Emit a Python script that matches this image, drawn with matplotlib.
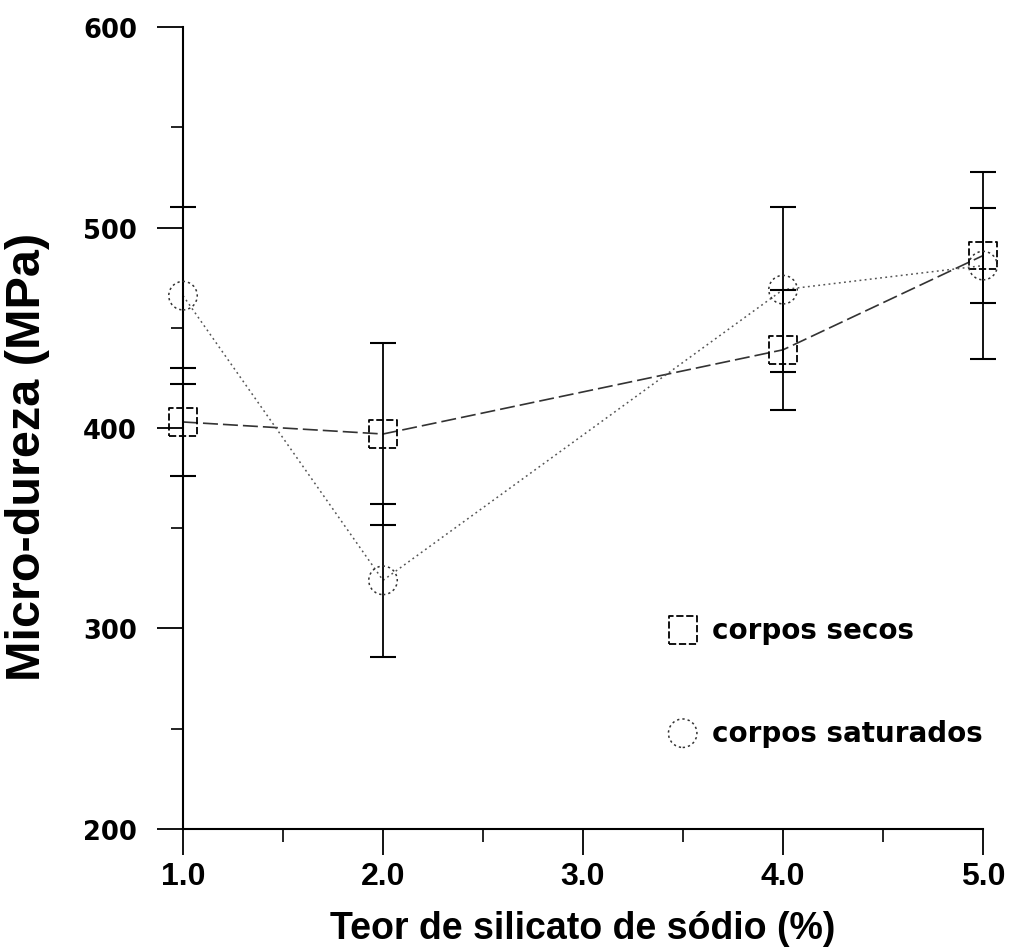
import matplotlib
matplotlib.use("Agg")
import matplotlib.pyplot as plt
from matplotlib import font_manager as fm
import numpy as np

# ---- data ----
teor = [1.0, 2.0, 4.0, 5.0]
secos = [403, 397, 439, 486]
secos_err = [27, 45.5, 30, 23.5]
saturados = [466, 324, 469, 481]
saturados_err = [44, 38, 41, 46.5]
xtick_labels = ["1.0", "2.0", "3.0", "4.0", "5.0"]
ytick_vals = [200, 300, 400, 500, 600]
label_secos = "corpos secos"
label_sat = "corpos saturados"
xlabel = "Teor de silicato de sódio (%)"
ylabel = "Micro-dureza (MPa)"

names = {f.name for f in fm.fontManager.ttflist}
narrow = "Liberation Sans Narrow" in names
lab_family = ["Liberation Sans Narrow"] if narrow else ["Liberation Sans"]

fig = plt.figure(figsize=(10.10, 9.53), dpi=100)
ax = fig.add_axes([0.1812, 0.1291, 0.7921, 0.8415])
ax.set_xlim(1.0, 5.0)
ax.set_ylim(200, 600)

# lines
ax.plot(teor, secos, color="#333333", lw=1.2, ls=(0, (9, 3)), zorder=2, clip_on=False)
ax.plot(teor, saturados, color="#555555", lw=1.1, ls=(0, (1.2, 2.2)), zorder=2, clip_on=False)

# error bars
ax.errorbar(teor, secos, yerr=secos_err, fmt="none", ecolor="black", elinewidth=1.3,
            capsize=9.5, capthick=1.5, zorder=3, clip_on=False)
ax.errorbar(teor, saturados, yerr=saturados_err, fmt="none", ecolor="black", elinewidth=1.3,
            capsize=9.5, capthick=1.5, zorder=3, clip_on=False)

# markers
sq = ax.scatter(teor, secos, marker="s", s=20**2, facecolors="none", edgecolors="black",
                linewidths=1.3, linestyles=(0, (4, 1.5)), zorder=4, clip_on=False)
ci = ax.scatter(teor, saturados, marker="o", s=20.5**2, facecolors="none", edgecolors="#333333",
                linewidths=1.1, linestyles=(0, (1.5, 2)), zorder=4, clip_on=False)

# spines
for s in ["top", "right"]:
    ax.spines[s].set_visible(False)
ax.spines["left"].set_linewidth(1.5)
ax.spines["bottom"].set_linewidth(1.5)

# ticks
ax.set_xticks([1, 2, 3, 4, 5])
ax.set_xticklabels(xtick_labels, fontfamily=["Liberation Sans"], fontweight="bold", fontsize=23)
ax.set_xticks([1.5, 2.5, 3.5, 4.5], minor=True)
ax.set_yticks(ytick_vals)
ax.set_yticklabels([str(v) for v in ytick_vals], fontfamily=["DejaVu Sans"], fontweight="bold", fontsize=18.5)
ax.set_yticks([250, 350, 450, 550], minor=True)
ax.tick_params(axis="both", which="major", direction="out", length=19, width=1.3, color="black")
ax.tick_params(axis="both", which="minor", direction="out", length=9, width=1.2, color="black")
ax.tick_params(axis="x", which="major", pad=4)
ax.tick_params(axis="y", which="major", pad=14)

ax.set_xlabel(xlabel, fontfamily=lab_family, fontweight="bold", fontsize=33 if narrow else 27)
ax.xaxis.set_label_coords(0.5, -0.101)
ax.set_ylabel(ylabel, fontfamily=["Liberation Sans"], fontweight="bold", fontsize=35)
ax.yaxis.set_label_coords(-0.166, 0.465)

# legend
leg = ax.legend([sq, ci], [label_secos, label_sat], loc="center left",
                bbox_to_anchor=(0.5725, 0.1845), frameon=False, labelspacing=2.7,
                handletextpad=0.45, handlelength=1.2, scatterpoints=1,
                prop={"family": "DejaVu Sans", "weight": "bold", "size": 20})

fig.savefig("out.png", dpi=100)
